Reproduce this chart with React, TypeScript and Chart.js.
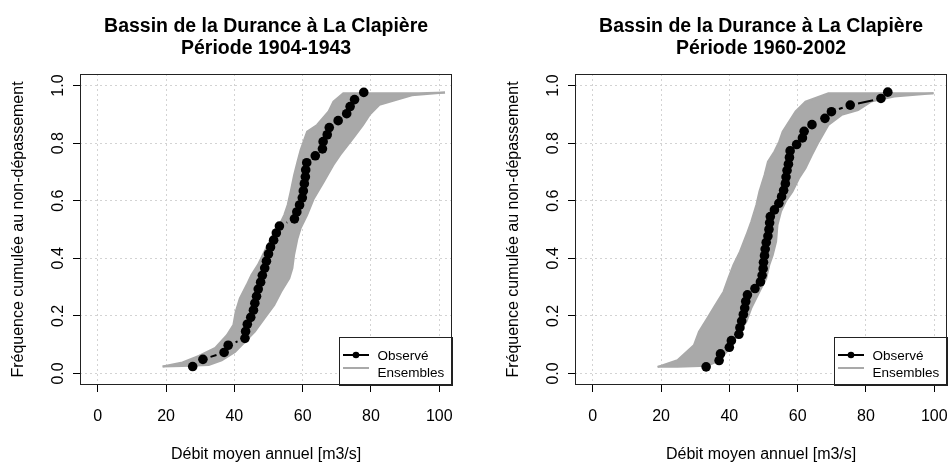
import React, { useEffect, useRef } from "react";
import { Chart, registerables } from "chart.js";

Chart.register(...registerables);

// ---------- text ----------
const TITLE_LINE = "Bassin de la Durance à La Clapière";
const PERIOD_LEFT = "Période 1904-1943";
const PERIOD_RIGHT = "Période 1960-2002";
const X_LABEL = "Débit moyen annuel [m3/s]";
const Y_LABEL = "Fréquence cumulée au non-dépassement";
const LEGEND_LABELS = ["Observé", "Ensembles"];

// ---------- ticks ----------
const X_TICKS = [0, 20, 40, 60, 80, 100];
const Y_TICKS = [0, 0.2, 0.4, 0.6, 0.8, 1.0];

// ---------- left panel (1904-1943) ----------
const obsLeftX = [27.8, 30.8, 37.0, 38.2, 43.1, 43.3, 43.8, 44.8, 45.6, 46.0, 46.5, 47.0, 47.7, 48.2, 48.9, 49.4, 50.0, 50.6, 51.5, 52.3, 53.2, 57.6, 58.3, 59.1, 59.9, 60.2, 60.5, 60.8, 60.9, 61.2, 63.7, 65.8, 66.0, 67.2, 67.8, 70.4, 72.9, 73.9, 75.2, 77.9];
const obsLeftY = [0.024, 0.049, 0.073, 0.098, 0.122, 0.146, 0.171, 0.195, 0.220, 0.244, 0.268, 0.293, 0.317, 0.341, 0.366, 0.390, 0.415, 0.439, 0.463, 0.488, 0.512, 0.537, 0.561, 0.585, 0.610, 0.634, 0.659, 0.683, 0.707, 0.732, 0.756, 0.780, 0.805, 0.829, 0.854, 0.878, 0.902, 0.927, 0.951, 0.976];

// ensemble envelope: upper-left edge and lower-right edge
const ensLeftUpperX = [19.0, 24.8, 29.6, 34.4, 37.8, 39.7, 40.4, 41.6, 43.6, 45.0, 46.9, 48.8, 50.8, 53.2, 54.6, 55.6, 56.5, 57.5, 58.5, 59.4, 61.3, 64.2, 67.6, 69.0, 71.9, 94.0, 101.7];
const ensLeftUpperY = [0.024, 0.038, 0.061, 0.089, 0.133, 0.168, 0.214, 0.261, 0.307, 0.342, 0.377, 0.423, 0.469, 0.516, 0.550, 0.585, 0.632, 0.689, 0.736, 0.776, 0.840, 0.863, 0.910, 0.944, 0.973, 0.973, 0.976];
const ensLeftLowerX = [19.0, 24.8, 32.5, 36.3, 40.2, 43.1, 46.0, 48.8, 51.7, 53.7, 56.1, 57.0, 57.5, 58.5, 59.4, 61.3, 63.3, 66.2, 69.0, 71.0, 74.8, 77.7, 79.6, 82.5, 92.0, 101.7];
const ensLeftLowerY = [0.024, 0.026, 0.029, 0.046, 0.075, 0.110, 0.145, 0.191, 0.238, 0.284, 0.330, 0.365, 0.411, 0.469, 0.504, 0.550, 0.608, 0.666, 0.724, 0.759, 0.817, 0.863, 0.898, 0.933, 0.966, 0.976];

// ---------- right panel (1960-2002) ----------
const obsRightX = [33.2, 37.0, 37.4, 40.0, 40.6, 42.8, 43.1, 43.6, 44.1, 44.5, 44.8, 45.3, 47.5, 49.1, 49.6, 49.9, 50.0, 50.3, 50.5, 50.8, 51.3, 51.6, 51.8, 52.0, 53.2, 54.5, 55.3, 55.9, 56.4, 56.6, 56.9, 57.3, 57.6, 57.8, 59.7, 61.4, 61.9, 64.2, 68.0, 69.9, 75.4, 84.4, 86.4];
const obsRightY = [0.023, 0.045, 0.068, 0.091, 0.114, 0.136, 0.159, 0.182, 0.205, 0.227, 0.250, 0.273, 0.295, 0.318, 0.341, 0.364, 0.386, 0.409, 0.432, 0.455, 0.477, 0.500, 0.523, 0.545, 0.568, 0.591, 0.614, 0.636, 0.659, 0.682, 0.705, 0.727, 0.750, 0.773, 0.795, 0.818, 0.841, 0.864, 0.886, 0.909, 0.932, 0.955, 0.977];

const ensRightUpperX = [19.0, 24.8, 29.6, 31.1, 33.5, 35.9, 38.3, 39.7, 41.2, 43.1, 45.0, 46.4, 47.9, 48.8, 50.3, 51.3, 53.2, 54.6, 55.6, 57.5, 59.4, 62.3, 69.0, 99.8];
const ensRightUpperY = [0.023, 0.046, 0.098, 0.145, 0.191, 0.238, 0.284, 0.330, 0.377, 0.423, 0.481, 0.527, 0.585, 0.632, 0.689, 0.736, 0.771, 0.805, 0.840, 0.875, 0.910, 0.944, 0.973, 0.973];
const ensRightLowerX = [19.0, 24.8, 33.5, 36.3, 39.2, 41.2, 43.1, 45.0, 46.4, 48.8, 50.8, 51.7, 52.7, 53.7, 54.1, 55.1, 56.5, 58.5, 60.4, 62.3, 64.2, 66.2, 69.0, 72.9, 77.7, 81.5, 88.3, 99.8];
const ensRightLowerY = [0.023, 0.023, 0.027, 0.041, 0.075, 0.110, 0.145, 0.180, 0.226, 0.284, 0.330, 0.377, 0.411, 0.458, 0.516, 0.562, 0.597, 0.632, 0.678, 0.713, 0.759, 0.805, 0.863, 0.898, 0.915, 0.944, 0.962, 0.973];

// ---------- style ----------
const FONT = "'Liberation Sans', Arial, Helvetica, sans-serif";
const GRAY = "#a9a9a9";
const GRID = "#d3d3d3";
const AXIS_COLOR = "#000";

const zip = (xs: number[], ys: number[]) => xs.map((x, i) => ({ x, y: ys[i] }));

const boxAndLegend = {
  id: "boxAndLegend",
  afterDraw(chart: any) {
    const { ctx, chartArea: a } = chart;
    ctx.save();
    // legend box (bottom-right)
    const w = 113;
    const h = 48;
    const bx = Math.round(a.right) - w;
    const by = Math.round(a.bottom) - h;
    ctx.fillStyle = "#fff";
    ctx.fillRect(bx, by, w, h);
    ctx.strokeStyle = "#222";
    ctx.lineWidth = 1;
    ctx.strokeRect(bx + 0.5, by + 0.5, w, h);
    // row 1: observed
    const r1 = by + 18;
    ctx.strokeStyle = "#000";
    ctx.lineWidth = 2;
    ctx.beginPath();
    ctx.moveTo(bx + 4, r1);
    ctx.lineTo(bx + 30, r1);
    ctx.stroke();
    ctx.fillStyle = "#000";
    ctx.beginPath();
    ctx.arc(bx + 17, r1, 3.3, 0, Math.PI * 2);
    ctx.fill();
    // row 2: ensembles
    const r2 = by + 31;
    ctx.strokeStyle = GRAY;
    ctx.beginPath();
    ctx.moveTo(bx + 4, r2);
    ctx.lineTo(bx + 30, r2);
    ctx.stroke();
    ctx.fillStyle = "#000";
    ctx.font = `13.5px ${FONT}`;
    ctx.textBaseline = "alphabetic";
    ctx.textAlign = "left";
    ctx.fillText(LEGEND_LABELS[0], bx + 38.5, by + 23);
    ctx.fillText(LEGEND_LABELS[1], bx + 38.5, by + 39.5);
    // plot box
    ctx.strokeStyle = "#222";
    ctx.lineWidth = 1;
    ctx.strokeRect(
      Math.round(a.left) + 0.5,
      Math.round(a.top) + 0.5,
      Math.round(a.right - a.left) - 1,
      Math.round(a.bottom - a.top) - 1
    );
    ctx.restore();
  },
};

type PanelProps = {
  left: number;
  period: string;
  obsX: number[];
  obsY: number[];
  upX: number[];
  upY: number[];
  loX: number[];
  loY: number[];
};

function Panel({ left, period, obsX, obsY, upX, upY, loX, loY }: PanelProps) {
  const ref = useRef<HTMLCanvasElement>(null);
  useEffect(() => {
    if (!ref.current) return;
    const axisFont = { family: FONT, size: 16 };
    const chart = new Chart(ref.current, {
      type: "line",
      data: {
        datasets: [
          {
            label: LEGEND_LABELS[0],
            data: zip(obsX, obsY),
            borderColor: "#000",
            backgroundColor: "#000",
            borderWidth: 2,
            pointRadius: 4.8,
            pointBackgroundColor: "#000",
            pointBorderWidth: 0,
            fill: false,
            tension: 0,
            order: 0,
            segment: {
              borderDash: (c: any) => {
                const d = Math.hypot(c.p1.x - c.p0.x, c.p1.y - c.p0.y);
                const g = 8;
                if (d <= 2 * g) return [0, 100000 + d];
                return [0, g, d - 2 * g, 100000 + d];
              },
            },
          } as any,
          {
            label: LEGEND_LABELS[1],
            data: zip(upX, upY),
            borderColor: GRAY,
            backgroundColor: GRAY,
            borderWidth: 2,
            pointRadius: 0,
            fill: "+1",
            tension: 0,
            order: 1,
          },
          {
            label: LEGEND_LABELS[1] + " (min)",
            data: zip(loX, loY),
            borderColor: GRAY,
            backgroundColor: GRAY,
            borderWidth: 2,
            pointRadius: 0,
            fill: false,
            tension: 0,
            order: 1,
          },
        ],
      },
      options: {
        responsive: false,
        animation: false,
        devicePixelRatio: 1,
        layout: { padding: { left: 0, right: 1, top: 0, bottom: 0 } },
        events: [],
        plugins: {
          legend: { display: false },
          tooltip: { enabled: false },
          title: {
            display: true,
            fullSize: false,
            text: [TITLE_LINE, period],
            color: "#000",
            font: { family: FONT, size: 19.5, weight: "bold", lineHeight: 1.11 },
            padding: { top: 16, bottom: 14.7 },
          },
        },
        scales: {
          x: {
            type: "linear",
            min: -5.2,
            max: 103.8,
            afterBuildTicks: (s: any) => {
              s.ticks = X_TICKS.map((v) => ({ value: v }));
            },
            afterFit: (s: any) => {
              s.height = 79;
              s.paddingLeft = 0;
              s.paddingRight = 0;
            },
            ticks: {
              font: axisFont,
              color: "#000",
              padding: 15,
              maxRotation: 0,
              callback: (v: any) => String(v),
            },
            grid: {
              color: GRID,
              lineWidth: 1,
              drawTicks: true,
              tickLength: 7,
              tickColor: AXIS_COLOR,
              tickWidth: 1,
            },
            border: { display: false, dash: [2, 3] },
            title: {
              display: true,
              text: X_LABEL,
              color: "#000",
              font: axisFont,
              padding: { top: 3, bottom: 0 },
            },
          },
          y: {
            type: "linear",
            min: -0.04,
            max: 1.04,
            afterBuildTicks: (s: any) => {
              s.ticks = Y_TICKS.map((v) => ({ value: v }));
            },
            afterFit: (s: any) => {
              s.width = 80;
              s.paddingTop = 0;
              s.paddingBottom = 0;
            },
            ticks: {
              font: axisFont,
              color: "#000",
              padding: 3,
              minRotation: 90,
              maxRotation: 90,
              crossAlign: "center",
              callback: (v: any) => Number(v).toFixed(1),
            },
            grid: {
              color: GRID,
              lineWidth: 1,
              drawTicks: true,
              tickLength: 7,
              tickColor: AXIS_COLOR,
              tickWidth: 1,
            },
            border: { display: false, dash: [2, 3] },
            title: {
              display: true,
              text: Y_LABEL,
              color: "#000",
              font: axisFont,
              padding: { top: 9, bottom: 0 },
            },
          },
        },
      } as any,
      plugins: [boxAndLegend],
    });
    return () => chart.destroy();
  }, []);
  return (
    <canvas
      ref={ref}
      width={457}
      height={464}
      style={{ position: "absolute", left, top: 0, width: 457, height: 464 }}
    />
  );
}

export default function App() {
  return (
    <div
      style={{
        position: "absolute",
        left: 0,
        top: 0,
        width: 952,
        height: 464,
        background: "#fff",
        overflow: "hidden",
      }}
    >
      <Panel
        left={0}
        period={PERIOD_LEFT}
        obsX={obsLeftX}
        obsY={obsLeftY}
        upX={ensLeftUpperX}
        upY={ensLeftUpperY}
        loX={ensLeftLowerX}
        loY={ensLeftLowerY}
      />
      <Panel
        left={495}
        period={PERIOD_RIGHT}
        obsX={obsRightX}
        obsY={obsRightY}
        upX={ensRightUpperX}
        upY={ensRightUpperY}
        loX={ensRightLowerX}
        loY={ensRightLowerY}
      />
    </div>
  );
}
